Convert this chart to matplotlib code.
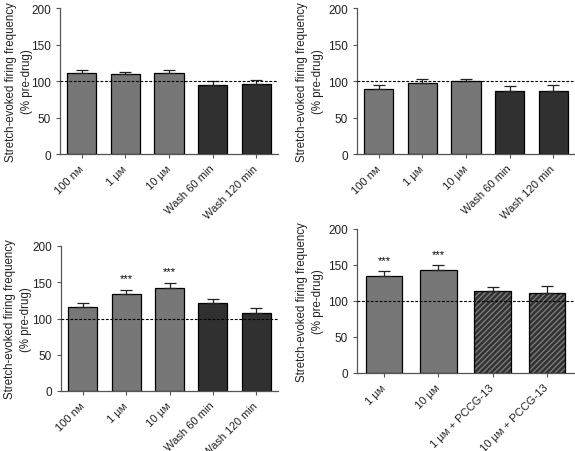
import matplotlib
matplotlib.use('Agg')
import matplotlib.pyplot as plt
import numpy as np

plt.rcParams['font.family'] = ['Liberation Sans', 'DejaVu Sans']

# ── Data ───────────────────────────────────────────────────────────────────────
labels_ab = ["100 n\u1d0d", "1 \u00b5\u1d0d", "10 \u00b5\u1d0d", "Wash 60 min", "Wash 120 min"]
labels_d = ["1 \u00b5\u1d0d", "10 \u00b5\u1d0d", "1 \u00b5\u1d0d + PCCG-13", "10 \u00b5\u1d0d + PCCG-13"]

mean_a = [110.5, 109, 111.4, 94.5, 96.3]
err_a = [5, 4, 3.6, 5.5, 5.7]
mean_b = [89, 97, 100, 86, 86]
err_b = [6, 6.2, 3.2, 7.6, 8.5]
mean_c = [115.5, 134, 141.5, 121, 107.3]
err_c = [5.5, 6, 7.5, 6, 6.7]
mean_d = [135, 142.6, 113.4, 111]
err_d = [6, 7, 5.6, 10]

# significance marks: (bar index, label)
stars_c = [(1, "***"), (2, "***")]
stars_d = [(0, "***"), (1, "***")]

LIGHT = '#777777'
DARK = '#303030'
HATCH_FACE = '#323232'
SPINE = '#555555'

W, H = 575, 452
fig = plt.figure(figsize=(W / 100, H / 100), dpi=100)


def px_axes(left, top, right, bottom):
    return fig.add_axes([left / W, 1 - bottom / H, (right - left) / W, (bottom - top) / H])


def style_axes(ax, labels, nbars, label_x):
    ax.set_ylim(0, 200)
    ax.set_xlim(-0.5, nbars - 0.5)
    ax.set_yticks([0, 50, 100, 150, 200])
    ax.set_xticks(range(nbars))
    ax.set_xticklabels(labels, rotation=45, ha='right', va='center',
                       rotation_mode='anchor', fontsize=8)
    ax.tick_params(axis='both', direction='out', length=3, width=0.8, color=SPINE,
                   labelsize=8.5, labelcolor='#222222')
    ax.tick_params(axis='x', labelsize=8, pad=6)
    for s in ['top', 'right']:
        ax.spines[s].set_visible(False)
    for s in ['left', 'bottom']:
        ax.spines[s].set_color(SPINE)
        ax.spines[s].set_linewidth(0.9)
    ax.axhline(100, color='black', linestyle=(0, (2.5, 1.5)), linewidth=0.8, zorder=5)
    ax.set_ylabel("Stretch-evoked firing frequency\n(% pre-drug)", fontsize=8.3,
                  linespacing=1.45, color='#222222')
    ax.yaxis.set_label_coords(label_x, 0.5)


def draw_bars(ax, means, errs, colors, hatched=None, width=0.67):
    x = np.arange(len(means))
    hatched = hatched or [False] * len(means)
    for i in x:
        if hatched[i]:
            ax.bar(i, means[i], width, color=HATCH_FACE, edgecolor='#7a7a7a',
                   hatch='//////', linewidth=0, zorder=2)
            ax.bar(i, means[i], width, facecolor='none', edgecolor='black',
                   linewidth=0.9, zorder=3)
        else:
            ax.bar(i, means[i], width, color=colors[i], edgecolor='black',
                   linewidth=0.9, zorder=2)
    ax.errorbar(x, means, yerr=[[0] * len(errs), errs], fmt='none', ecolor='#222222',
                elinewidth=0.9, capsize=4, capthick=0.9, zorder=4)


def draw_stars(ax, stars, means, errs):
    for i, s in stars:
        ax.text(i, means[i] + errs[i] + 9, s, ha='center', va='bottom', fontsize=8)


cols5 = [LIGHT, LIGHT, LIGHT, DARK, DARK]

# ── Panel A ────────────────────────────────────────────────────────────────────
ax_a = px_axes(60, 9, 278, 155)
draw_bars(ax_a, mean_a, err_a, cols5)
style_axes(ax_a, labels_ab, 5, -0.125)

# ── Panel B ────────────────────────────────────────────────────────────────────
ax_b = px_axes(357, 9, 575, 155)
draw_bars(ax_b, mean_b, err_b, cols5)
style_axes(ax_b, labels_ab, 5, -0.15)

# ── Panel C ────────────────────────────────────────────────────────────────────
ax_c = px_axes(61, 247, 278, 392)
draw_bars(ax_c, mean_c, err_c, cols5)
draw_stars(ax_c, stars_c, mean_c, err_c)
style_axes(ax_c, labels_ab, 5, -0.135)

# ── Panel D ────────────────────────────────────────────────────────────────────
ax_d = px_axes(357, 230, 574, 374)
draw_bars(ax_d, mean_d, err_d, [LIGHT] * 4, hatched=[False, False, True, True])
draw_stars(ax_d, stars_d, mean_d, err_d)
style_axes(ax_d, labels_d, 4, -0.15)

plt.savefig("out.png", dpi=100)
plt.close('all')
print("Saved: out.png")
